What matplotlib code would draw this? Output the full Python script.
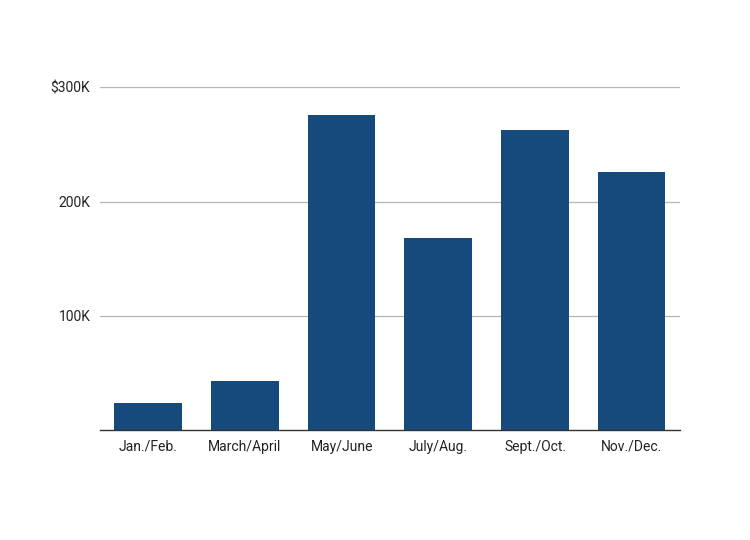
import matplotlib
matplotlib.use("Agg")
import matplotlib.pyplot as plt

categories = ["Jan./Feb.", "March/April", "May/June", "July/Aug.", "Sept./Oct.", "Nov./Dec."]
values = [23400, 42900, 275800, 167900, 262700, 226200]
ytick_values = [100000, 200000, 300000]
ytick_labels = ["100K", "200K", "$300K"]

plt.rcParams['font.family'] = ['Roboto', 'DejaVu Sans']

fig = plt.figure(figsize=(7.5, 5.4), dpi=100)
ax = fig.add_axes([100/750, 1-430/540, 580/750, (430-87.3)/540])

x = list(range(len(categories)))
ax.bar(x, values, width=0.7, color="#174a7c", zorder=3)
ax.set_xlim(-0.5, len(categories) - 0.5)
ax.set_ylim(0, 300000)

ax.set_yticks(ytick_values)
ax.set_yticklabels(ytick_labels)
ax.set_xticks(x)
ax.set_xticklabels(categories)

for v in ytick_values:
    ax.axhline(v, color="#b5b5b5", linewidth=0.9, zorder=1)

for s in ["top", "right", "left"]:
    ax.spines[s].set_visible(False)
ax.spines["bottom"].set_color("#333333")
ax.spines["bottom"].set_linewidth(1.0)
ax.spines["bottom"].set_zorder(4)

ax.tick_params(axis="y", length=0, pad=7, labelsize=10, labelcolor="#222222")
ax.tick_params(axis="x", length=0, pad=7, labelsize=10, labelcolor="#222222")

fig.savefig("out.png", dpi=100, facecolor="white")
